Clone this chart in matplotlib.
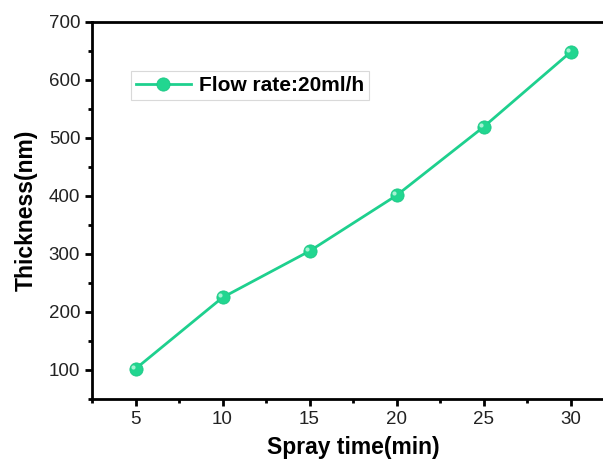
import matplotlib.pyplot as plt
from matplotlib.ticker import MultipleLocator
from matplotlib.transforms import offset_copy

plt.rcParams['font.family'] = ['Liberation Sans', 'DejaVu Sans']

# data
spray_time = [5, 10, 15, 20, 25, 30]
thickness = [102, 225, 305, 401, 519, 648]

green = '#1ed08e'

fig = plt.figure(figsize=(6.03, 4.61), dpi=100)
ax = fig.add_axes([0.1526, 0.1345, 0.8657, 0.8178])

ax.plot(spray_time, thickness, color=green, lw=2, marker='o', ms=9.5,
        mfc='#22d690', mec='#1cc886', mew=0.6, label='Flow rate:20ml/h')
# small highlight on the markers (shifted up-left like a sphere shine)
shine = offset_copy(ax.transData, fig=fig, x=-1.5, y=1.5, units='points')
ax.plot(spray_time, thickness, ls='none', marker='o', ms=3, mfc='#a6f3d3',
        mec='none', zorder=3, transform=shine)

ax.set_xlim(2.5, 32.5)
ax.set_ylim(50, 700)
ax.xaxis.set_major_locator(MultipleLocator(5))
ax.xaxis.set_minor_locator(MultipleLocator(2.5))
ax.yaxis.set_major_locator(MultipleLocator(100))
ax.yaxis.set_minor_locator(MultipleLocator(50))

ax.tick_params(which='major', direction='out', length=5, width=2, labelsize=13.5,
               labelcolor='#222222')
ax.tick_params(which='minor', direction='out', length=3, width=2)
for s in ['left', 'bottom', 'top']:
    ax.spines[s].set_linewidth(2)
ax.spines['right'].set_visible(False)

ax.set_xlabel('Spray time(min)', fontsize=16.5, fontweight='bold', labelpad=6)
ax.set_ylabel('Thickness(nm)', fontsize=16.5, fontweight='bold', labelpad=8)

leg = ax.legend(loc='upper left', bbox_to_anchor=(0.075, 0.87), fancybox=False,
                frameon=True, edgecolor='#d0d0d0', handlelength=2.6,
                prop={'size': 15, 'weight': 'bold'}, borderpad=0.25,
                borderaxespad=0, handletextpad=0.4)
leg.get_frame().set_linewidth(0.8)

fig.savefig('out.png', dpi=100)
